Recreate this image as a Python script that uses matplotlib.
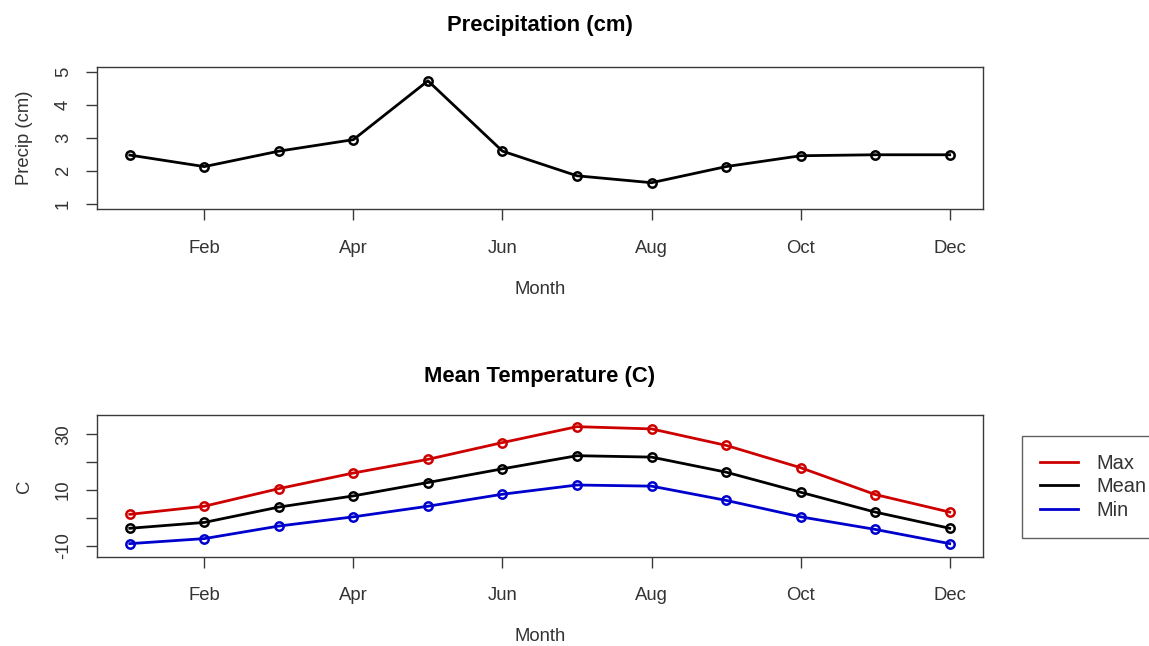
import matplotlib
matplotlib.use('Agg')
import matplotlib.pyplot as plt
from matplotlib.lines import Line2D

plt.rcParams['font.family'] = ['Liberation Sans', 'DejaVu Sans']

months = list(range(1, 13))
month_ticks = [2, 4, 6, 8, 10, 12]
month_labels = ['Feb', 'Apr', 'Jun', 'Aug', 'Oct', 'Dec']

precip = [2.48, 2.13, 2.60, 2.95, 4.74, 2.60, 1.85, 1.64, 2.13, 2.46, 2.49, 2.49]

temp_max = [1.3, 4.2, 10.5, 16.1, 21.0, 27.0, 32.7, 31.9, 26.0, 18.0, 8.4, 2.1]
temp_mean = [-3.7, -1.6, 3.9, 7.9, 12.7, 17.6, 22.3, 21.8, 16.4, 9.2, 2.1, -3.7]
temp_min = [-9.2, -7.4, -2.9, 0.4, 4.2, 8.5, 11.8, 11.4, 6.3, 0.4, -4.1, -9.2]

series_names = ['Max', 'Mean', 'Min']

red3 = '#CD0000'
blue3 = '#0000CD'
txt = '#333333'


def r_limits(lo, hi):
    # R pads the axis range by 4% on each side
    pad = (hi - lo) * 0.04
    return lo - pad, hi + pad


def style_axes(ax):
    for s in ax.spines.values():
        s.set_color('#3a3a3a')
        s.set_linewidth(1.0)
    ax.tick_params(direction='out', length=8, width=1.0, color='#3a3a3a',
                   labelsize=13.3, labelcolor=txt)
    ax.tick_params(axis='x', pad=14)
    ax.tick_params(axis='y', pad=10)
    ax.set_xlim(*r_limits(1, 12))
    ax.set_xticks(month_ticks)
    ax.set_xticklabels(month_labels)


fig = plt.figure(figsize=(11.49, 6.46), dpi=100)
ax1 = fig.add_axes([97 / 1149, 1 - 209 / 646, 885.5 / 1149, 142 / 646])
ax2 = fig.add_axes([97 / 1149, 1 - 556.7 / 646, 885.5 / 1149, 141.7 / 646])

line_kw = dict(linewidth=2, marker='o', markersize=6, markerfacecolor='none',
               markeredgewidth=1.8)

# precipitation panel
ax1.plot(months, precip, color='black', **line_kw)
style_axes(ax1)
ax1.set_ylim(*r_limits(1, 5))
ax1.set_yticks([1, 2, 3, 4, 5])
plt.setp(ax1.get_yticklabels(), rotation=90, va='center')
ax1.set_title('Precipitation (cm)', fontsize=15.8, fontweight='bold', pad=26)
ax1.set_xlabel('Month', fontsize=13.3, color=txt)
ax1.xaxis.set_label_coords(0.5, -0.51)
ax1.set_ylabel('Precip (cm)', fontsize=13.3, color=txt)
ax1.yaxis.set_label_coords(-0.072, 0.5)

# temperature panel
colors = [red3, 'black', blue3]
for vals, c in zip([temp_max, temp_mean, temp_min], colors):
    ax2.plot(months, vals, color=c, **line_kw)
style_axes(ax2)
ax2.set_ylim(*r_limits(-12, 35))
ax2.set_yticks([-10, 0, 10, 20, 30])
ax2.set_yticklabels(['-10', '', '10', '', '30'])
plt.setp(ax2.get_yticklabels(), rotation=90, va='center')
ax2.set_title('Mean Temperature (C)', fontsize=15.8, fontweight='bold', pad=24)
ax2.set_xlabel('Month', fontsize=13.3, color=txt)
ax2.xaxis.set_label_coords(0.5, -0.50)
ax2.set_ylabel('C', fontsize=13.3, color=txt)
ax2.yaxis.set_label_coords(-0.072, 0.5)

# legend sits outside the plot on the right, lines only
handles = [Line2D([], [], color=c, linewidth=2) for c in colors]
leg = fig.legend(handles, series_names, loc='upper left',
                 bbox_to_anchor=(1022 / 1149, 1 - 436 / 646),
                 fontsize=14.4, frameon=True, fancybox=False, borderpad=0.9,
                 labelspacing=0.22, handlelength=1.9, handletextpad=0.9,
                 borderaxespad=0)
leg.get_frame().set_edgecolor('#3a3a3a')
leg.get_frame().set_linewidth(1.0)
for t in leg.get_texts():
    t.set_color(txt)

fig.savefig('out.png', dpi=100)
